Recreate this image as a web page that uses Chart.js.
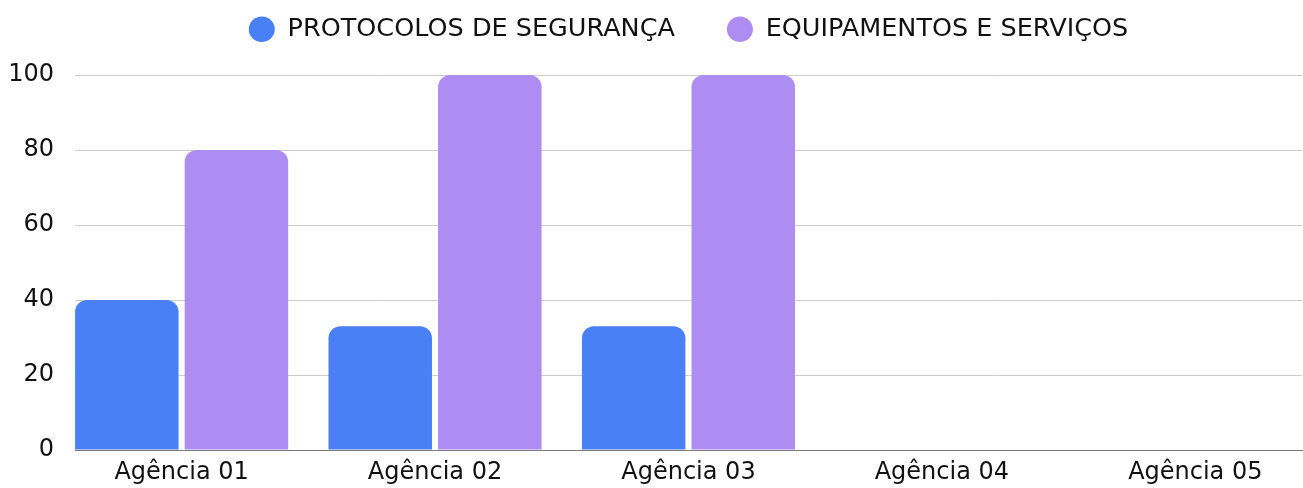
<!DOCTYPE html>
<html><head><meta charset="utf-8">
<script src="https://cdn.jsdelivr.net/npm/chart.js@4.4.0/dist/chart.umd.min.js"></script>
<style>html,body{margin:0;padding:0;background:#fff}#wrap{width:1303px;height:488px;position:relative}</style>
</head><body><div id="wrap"><canvas id="c"></canvas></div>
<script>
const categories = ['Agência 01', 'Agência 02', 'Agência 03', 'Agência 04', 'Agência 05'];
const seriesNames = ['PROTOCOLOS DE SEGURANÇA', 'EQUIPAMENTOS E SERVIÇOS'];
const protocolos = [40, 33, 33, 0, 0];
const equipamentos = [80, 100, 100, 0, 0];
const yTicks = [0, 20, 40, 60, 80, 100];

const FONT = "'DejaVu Sans', sans-serif";
const LAYOUT_TOP = -35.5;
const LEGEND_H = 110.5;
const toPoints = arr => arr.map((v, i) => ({x: i, y: v}));

const legendHeightPlugin = {
  id: 'legendHeight',
  afterInit(chart) {
    const lg = chart.legend;
    if (!lg) return;
    const orig = lg.fit;
    lg.fit = function () { orig.call(this); this.height = LEGEND_H; };
  }
};

new Chart(document.getElementById('c'), {
  type: 'bar',
  data: {
    datasets: [
      {label: seriesNames[0], data: toPoints(protocolos), backgroundColor: '#4a80f5', borderRadius: {topLeft: 12, topRight: 12}, borderSkipped: 'bottom'},
      {label: seriesNames[1], data: toPoints(equipamentos), backgroundColor: '#ae8df3', borderRadius: {topLeft: 12, topRight: 12}, borderSkipped: 'bottom'}
    ]
  },
  plugins: [legendHeightPlugin],
  options: {
    responsive: true,
    maintainAspectRatio: false,
    animation: false,
    categoryPercentage: 0.865,
    barPercentage: 0.944,
    layout: {padding: {top: LAYOUT_TOP, right: 1, left: 0, bottom: 0}},
    plugins: {
      tooltip: {enabled: false},
      legend: {
        position: 'top',
        fullSize: false,
        labels: {
          usePointStyle: true, pointStyle: 'circle', pointStyleWidth: 26, boxHeight: 18,
          padding: 52, color: '#111', font: {family: FONT, size: 25.5}
        }
      }
    },
    scales: {
      x: {
        type: 'linear', min: -0.4207, max: 4.421, offset: false, bounds: 'data',
        afterBuildTicks: s => { s.ticks = categories.map((_, i) => ({value: i})); },
        afterFit: s => { s.height = 38; },
        grid: {display: false, drawTicks: false, offset: false},
        border: {display: true, color: '#7a7a7a', width: 1},
        ticks: {padding: 8, color: '#111', font: {family: FONT, size: 24}, maxRotation: 0, autoSkip: false,
          callback: v => categories[v]}
      },
      y: {
        min: 0, max: 100,
        afterBuildTicks: s => { s.ticks = yTicks.map(v => ({value: v})); },
        afterFit: s => { s.width = 75; },
        grid: {color: '#cccccc', drawTicks: false, lineWidth: 1},
        border: {display: false},
        ticks: {padding: 21, color: '#111', font: {family: FONT, size: 24}}
      }
    }
  }
});
</script></body></html>
